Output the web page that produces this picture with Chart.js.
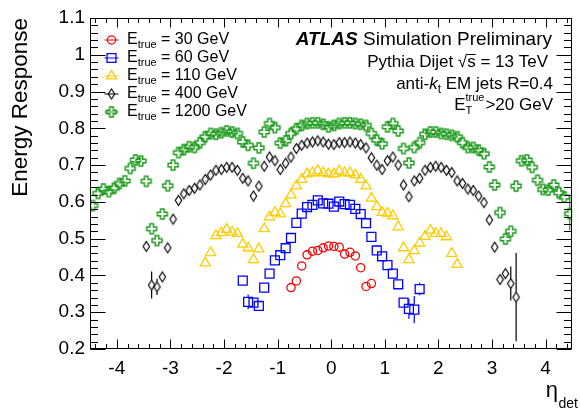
<!DOCTYPE html>
<html><head><meta charset="utf-8">
<script src="https://cdn.jsdelivr.net/npm/chart.js@4.4.1/dist/chart.umd.min.js"></script>
<style>html,body{margin:0;padding:0;background:#fff;}canvas{display:block;}</style>
</head><body>
<canvas id="c" width="580" height="412" style="width:580px;height:412px"></canvas>
<script>
const FONT = "'Liberation Sans', Arial, Helvetica, sans-serif";
const _ = null;

// eta bin centres (x categories)
const etaCenters = [
 -4.45,-4.35,-4.25,-4.15,-4.05,-3.95,-3.85,-3.75,-3.65,-3.55,
 -3.45,-3.35,-3.25,-3.15,-3.05,-2.95,-2.85,-2.75,-2.65,-2.55,
 -2.45,-2.35,-2.25,-2.15,-2.05,-1.95,-1.85,-1.75,-1.65,-1.55,
 -1.45,-1.35,-1.25,-1.15,-1.05,-0.95,-0.85,-0.75,-0.65,-0.55,
 -0.45,-0.35,-0.25,-0.15,-0.05, 0.05, 0.15, 0.25, 0.35, 0.45,
  0.55, 0.65, 0.75, 0.85, 0.95, 1.05, 1.15, 1.25, 1.35, 1.45,
  1.55, 1.65, 1.75, 1.85, 1.95, 2.05, 2.15, 2.25, 2.35, 2.45,
  2.55, 2.65, 2.75, 2.85, 2.95, 3.05, 3.15, 3.25, 3.35, 3.45,
  3.55, 3.65, 3.75, 3.85, 3.95, 4.05, 4.15, 4.25, 4.35, 4.45
];

// tick labels
const xTickValues = [-4, -3, -2, -1, 0, 1, 2, 3, 4];
const yTickValues = [0.2, 0.3, 0.4, 0.5, 0.6, 0.7, 0.8, 0.9, 1.0, 1.1];

const seriesLabels = ['30 GeV', '60 GeV', '110 GeV', '400 GeV', '1200 GeV'];

const resp30 = [
 _,_,_,_,_,_,_,_,_,_,
 _,_,_,_,_,_,_,_,_,_,
 _,_,_,_,_,_,_,_,_,_,
 _,_,_,_,_,_,_,0.367,0.385,0.426,
 0.456,0.466,0.468,0.475,0.480,0.479,0.477,0.458,0.463,0.453,
 0.421,0.370,0.378,_,_,_,_,_,_,_,
 _,_,_,_,_,_,_,_,_,_,
 _,_,_,_,_,_,_,_,_,_,
 _,_,_,_,_,_,_,_,_,_
];
const resp60 = [
 _,_,_,_,_,_,_,_,_,_,
 _,_,_,_,_,_,_,_,_,_,
 _,_,_,_,_,_,_,_,0.386,0.328,
 0.326,0.317,0.367,0.405,0.441,0.455,0.474,0.502,0.543,0.568,
 0.586,0.592,0.604,0.596,0.595,0.587,0.601,0.594,0.592,0.581,
 0.567,0.542,0.505,0.468,0.452,0.428,0.405,0.376,0.326,0.309,
 0.307,0.363,_,_,_,_,_,_,_,_,
 _,_,_,_,_,_,_,_,_,_,
 _,_,_,_,_,_,_,_,_,_
];
const resp110 = [
 _,_,_,_,_,_,_,_,_,_,
 _,_,_,_,_,_,_,_,_,_,
 _,0.434,0.462,0.508,0.516,0.525,0.518,0.514,0.485,0.475,
 0.443,0.472,0.527,0.559,0.571,0.567,0.595,0.619,0.643,0.661,
 0.676,0.679,0.685,0.679,0.676,0.676,0.684,0.679,0.679,0.673,
 0.661,0.643,0.610,0.587,0.571,0.569,0.562,0.532,0.475,0.443,
 0.467,0.488,0.506,0.523,0.514,0.514,0.505,0.460,0.430,_,
 _,_,_,_,_,_,_,_,_,_,
 _,_,_,_,_,_,_,_,_,_
];
const resp400 = [
 _,_,_,_,_,_,_,_,_,_,
 0.479,0.374,0.369,0.396,0.475,0.553,0.604,0.622,0.631,0.637,
 0.646,0.661,0.673,0.686,0.688,0.694,0.694,0.686,0.664,0.657,
 0.616,0.643,0.697,0.722,0.712,0.688,0.705,0.722,0.745,0.754,
 0.760,0.763,0.766,0.763,0.757,0.756,0.761,0.761,0.763,0.760,
 0.756,0.747,0.720,0.700,0.688,0.712,0.722,0.700,0.646,0.614,
 0.657,0.664,0.686,0.694,0.697,0.694,0.686,0.680,0.657,0.650,
 0.635,0.631,0.616,0.598,0.551,0.477,0.389,0.405,0.378,0.341,
 _,_,_,_,_,_,_,_,_,_
];
const resp1200 = [
 0.590,0.623,0.635,0.628,0.637,0.650,0.657,0.691,0.714,0.711,
 0.656,0.527,0.495,0.567,0.644,0.700,0.734,0.742,0.750,0.748,
 0.761,0.777,0.786,0.784,0.788,0.793,0.790,0.786,0.763,0.754,
 0.705,0.747,0.790,0.813,0.802,0.760,0.766,0.786,0.799,0.808,
 0.813,0.815,0.815,0.811,0.804,0.808,0.813,0.815,0.815,0.813,
 0.811,0.808,0.786,0.768,0.758,0.804,0.813,0.793,0.745,0.706,
 0.748,0.761,0.784,0.790,0.790,0.786,0.784,0.781,0.777,0.761,
 0.748,0.748,0.741,0.731,0.695,0.646,0.571,0.499,0.520,0.643,
 0.712,0.714,0.694,0.659,0.634,0.632,0.646,0.625,0.613,0.568
];

// visible statistical error bars: [eta, error]
const err60 = [[-1.55, 0.020], [1.45, 0.027], [1.55, 0.037], [1.65, 0.017]];
const err110 = [[-2.35, 0.010]];
const err400 = [[-3.35, 0.037], [-3.25, 0.022], [3.35, 0.046], [3.45, 0.120]];
const err1200 = [[4.45, 0.045]];

const C_RED = '#ff0000', C_BLUE = '#0000ff', C_YEL = '#ffcc00', C_BLK = '#000000', C_GRN = '#1a9a1a';

function makeCross(color) {
  const c = document.createElement('canvas'); c.width = 14; c.height = 14;
  const g = c.getContext('2d'); const m = 7, h = 5, w = 1.8;
  g.strokeStyle = color; g.lineWidth = 1.4; g.beginPath();
  g.moveTo(m - w, m - h); g.lineTo(m + w, m - h); g.lineTo(m + w, m - w); g.lineTo(m + h, m - w);
  g.lineTo(m + h, m + w); g.lineTo(m + w, m + w); g.lineTo(m + w, m + h); g.lineTo(m - w, m + h);
  g.lineTo(m - w, m + w); g.lineTo(m - h, m + w); g.lineTo(m - h, m - w); g.lineTo(m - w, m - w);
  g.closePath(); g.stroke(); return c;
}
function makeDiamond(color) {
  const c = document.createElement('canvas'); c.width = 11; c.height = 13;
  const g = c.getContext('2d'); const cx = 5.5, cy = 6.5;
  g.strokeStyle = color; g.lineWidth = 1.2; g.beginPath();
  g.moveTo(cx, cy - 5); g.lineTo(cx + 3.2, cy); g.lineTo(cx, cy + 5); g.lineTo(cx - 3.2, cy);
  g.closePath(); g.stroke(); return c;
}
const crossImg = makeCross(C_GRN);
const diamondImg = makeDiamond(C_BLK);

const series = [
  {vals: resp30, color: C_RED, style: 'circle', r: 4.1, errs: []},
  {vals: resp60, color: C_BLUE, style: 'rect', r: 6.3, errs: err60},
  {vals: resp110, color: C_YEL, style: 'triangle', r: 5.8, errs: err110},
  {vals: resp400, color: C_BLK, style: diamondImg, r: 5, errs: err400},
  {vals: resp1200, color: C_GRN, style: crossImg, r: 5, errs: err1200}
];

const datasets = series.map((s, k) => ({
  label: seriesLabels[k],
  data: etaCenters.map((e, i) => ({x: e, y: s.vals[i]})).filter(p => p.y !== null),
  showLine: false,
  pointStyle: s.style,
  pointRadius: s.r,
  pointBorderColor: s.color,
  pointBackgroundColor: 'rgba(0,0,0,0)',
  pointBorderWidth: 1.3
}));

function line(ctx, x1, y1, x2, y2) { ctx.beginPath(); ctx.moveTo(x1, y1); ctx.lineTo(x2, y2); ctx.stroke(); }

const atlasPlugin = {
  id: 'atlas',
  afterDatasetsDraw(chart) {
    const {ctx, scales: {x, y}} = chart;
    ctx.save(); ctx.lineWidth = 1.2;
    series.forEach(s => {
      ctx.strokeStyle = s.color;
      s.errs.forEach(([e, err]) => {
        const i = etaCenters.indexOf(e); const v = s.vals[i];
        if (v === null || i < 0) return;
        const px = x.getPixelForValue(e), py = y.getPixelForValue(v);
        const up = y.getPixelForValue(v + err), dn = y.getPixelForValue(v - err);
        const gap = 5;
        if (py - up > gap) line(ctx, px, up, px, py - gap);
        if (dn - py > gap) line(ctx, px, py + gap, px, dn);
      });
    });
    ctx.restore();
  },
  afterDraw(chart) {
    const {ctx, chartArea: a, scales: {x, y}} = chart;
    ctx.save();
    ctx.strokeStyle = '#000'; ctx.lineWidth = 1;
    const L = Math.round(a.left) + 0.5, R = Math.round(a.right) - 0.5;
    const T = Math.round(a.top) + 0.5, B = Math.round(a.bottom) - 0.5;
    ctx.strokeRect(L, T, R - L, B - T);
    for (let k = -44; k <= 44; k += 2) {
      const major = k % 10 === 0;
      const px = Math.round(x.getPixelForValue(k / 10)) + 0.5;
      const len = major ? 9 : 4.5;
      line(ctx, px, B, px, B - len); line(ctx, px, T, px, T + len);
    }
    for (let k = 20; k <= 110; k += 2) {
      const major = k % 10 === 0;
      const py = Math.round(y.getPixelForValue(k / 100)) + 0.5;
      const len = major ? 15 : 7.5;
      line(ctx, L, py, L + len, py); line(ctx, R, py, R - len, py);
    }
    ctx.fillStyle = '#000';
    // y title
    ctx.save(); ctx.translate(27, 18); ctx.rotate(-Math.PI / 2);
    ctx.font = '22.5px ' + FONT; ctx.textAlign = 'right'; ctx.textBaseline = 'alphabetic';
    ctx.fillText('Energy Response', 0, 0); ctx.restore();
    // x title
    ctx.textAlign = 'right'; ctx.textBaseline = 'alphabetic';
    ctx.font = '14px ' + FONT; const wDet = ctx.measureText('det').width;
    ctx.fillText('det', 578, 408);
    ctx.font = '22px ' + FONT; ctx.fillText('η', 578 - wDet - 0.5, 397);

    // legend
    series.forEach((s, k) => {
      const cy = 40 + 18 * k, mx = 111.5;
      ctx.strokeStyle = s.color; ctx.lineWidth = 1;
      line(ctx, 104.5, cy, 118.5, cy);
      ctx.fillStyle = 'rgba(0,0,0,0)'; ctx.lineWidth = 1.3;
      Chart.helpers.drawPoint(ctx, {pointStyle: s.style, radius: s.r, rotation: 0, borderWidth: 1.3}, mx, cy);
      ctx.fillStyle = '#000'; ctx.textAlign = 'left';
      let tx = 127;
      ctx.font = '16px ' + FONT; ctx.fillText('E', tx, cy + 3.5); tx += ctx.measureText('E').width;
      ctx.font = '11px ' + FONT; ctx.fillText('true', tx, cy + 8); tx += ctx.measureText('true').width;
      ctx.font = '16px ' + FONT; ctx.fillText(' = ' + seriesLabels[k], tx, cy + 3.5);
    });

    // ATLAS label block
    ctx.fillStyle = '#000';
    ctx.textAlign = 'right';
    ctx.font = '19px ' + FONT;
    const simTxt = ' Simulation Preliminary';
    const wSim = ctx.measureText(simTxt).width;
    ctx.fillText(simTxt, 552, 45);
    ctx.font = 'italic bold 19px ' + FONT;
    ctx.fillText('ATLAS', 552 - wSim, 45);

    ctx.font = '17px ' + FONT;
    const l2 = 'Pythia Dijet √s = 13 TeV';
    ctx.fillText(l2, 548, 67);
    const wTail = ctx.measureText(' = 13 TeV').width, wS = ctx.measureText('s').width;
    ctx.lineWidth = 1; ctx.strokeStyle = '#000';
    line(ctx, 548 - wTail - wS, 54.5, 548 - wTail, 54.5);

    // anti-k_t EM jets R=0.4
    ctx.textAlign = 'left';
    const p1 = 'anti-', p3 = ' EM jets R=0.4';
    ctx.font = '17px ' + FONT; const w1 = ctx.measureText(p1).width, w3 = ctx.measureText(p3).width;
    ctx.font = 'italic 17px ' + FONT; const wk = ctx.measureText('k').width;
    ctx.font = '12px ' + FONT; const wt = ctx.measureText('t').width;
    let x0 = 553 - (w1 + wk + wt + w3);
    ctx.font = '17px ' + FONT; ctx.fillText(p1, x0, 89); x0 += w1;
    ctx.font = 'italic 17px ' + FONT; ctx.fillText('k', x0, 89); x0 += wk;
    ctx.font = '12px ' + FONT; ctx.fillText('t', x0, 93); x0 += wt;
    ctx.font = '17px ' + FONT; ctx.fillText(p3, x0, 89);

    // E_T^true > 20 GeV
    ctx.font = '17px ' + FONT; const wE = ctx.measureText('E').width, wG = ctx.measureText('>20 GeV').width;
    ctx.font = '11px ' + FONT; const wTr = ctx.measureText('true').width;
    let x1 = 553 - (wE + wTr + 1 + wG);
    ctx.font = '17px ' + FONT; ctx.fillText('E', x1, 110); x1 += wE;
    ctx.font = '11px ' + FONT; ctx.fillText('true', x1, 101); ctx.fillText('T', x1, 114); x1 += wTr + 1;
    ctx.font = '17px ' + FONT; ctx.fillText('>20 GeV', x1, 110);
    ctx.restore();
  }
};

new Chart(document.getElementById('c'), {
  type: 'scatter',
  data: {datasets},
  options: {
    responsive: false, animation: false, devicePixelRatio: 1,
    layout: {padding: {left: 0, right: 1, top: 18, bottom: 0}},
    plugins: {legend: {display: false}, tooltip: {enabled: false}},
    scales: {
      x: {
        type: 'linear', min: -4.5, max: 4.5,
        afterFit(s) { s.height = 63; },
        afterBuildTicks(s) { s.ticks = xTickValues.map(v => ({value: v})); },
        grid: {display: false, drawTicks: false}, border: {display: false},
        ticks: {padding: 8, color: '#000', font: {family: FONT, size: 19},
          maxRotation: 0, autoSkip: false,
          callback: v => String(v)}
      },
      y: {
        type: 'linear', min: 0.2, max: 1.1,
        afterFit(s) { s.width = 90; },
        afterBuildTicks(s) { s.ticks = yTickValues.map(v => ({value: v})); },
        grid: {display: false, drawTicks: false}, border: {display: false},
        ticks: {padding: 5, color: '#000', font: {family: FONT, size: 19},
          callback: v => String(Math.round(v * 10) / 10)}
      }
    }
  },
  plugins: [atlasPlugin]
});
</script>
</body></html>
